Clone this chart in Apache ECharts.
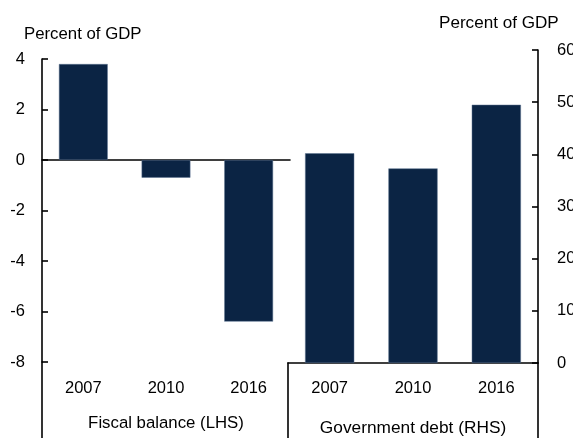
<!DOCTYPE html>
<html>
<head>
<meta charset="utf-8">
<script src="https://cdn.jsdelivr.net/npm/echarts@6/dist/echarts.min.js"></script>
<style>html,body{margin:0;padding:0;background:#fff}#c{width:573px;height:438px}</style>
</head>
<body>
<div id="c"></div>
<script>
const years = ['2007', '2010', '2016'];
const fiscalBalance = [3.8, -0.7, -6.4];
const govDebt = [40.2, 37.3, 49.5];
const leftTicks = { min: -8, max: 4, interval: 2 };
const rightTicks = { min: 0, max: 60, interval: 10 };
const leftUnit = 'Percent of GDP';
const rightUnit = 'Percent of GDP';
const leftName = 'Fiscal balance (LHS)';
const rightName = 'Government debt (RHS)';

const FONT = '"Liberation Sans", Arial, sans-serif';
const BAR = '#0b2444';
const LINE = { color: '#000', width: 1.6 };
const txt = { color: '#000', fontFamily: FONT, fontSize: 16.5 };

const chart = echarts.init(document.getElementById('c'), null, { renderer: 'canvas' });
chart.setOption({
  animation: false,
  backgroundColor: '#fff',
  title: [
    { text: leftUnit, left: 24, top: 26, padding: 0, textStyle: Object.assign({}, txt, { fontSize: 16.8, fontWeight: 'normal' }) },
    { text: rightUnit, left: 439, top: 15, padding: 0, textStyle: Object.assign({}, txt, { fontSize: 17.1, fontWeight: 'normal' }) }
  ],
  grid: [
    { left: 42, top: 59, width: 248, height: 303, outerBoundsMode: 'none', containLabel: false },
    { left: 42, top: 362, width: 248, height: 76, outerBoundsMode: 'none', containLabel: false },
    { left: 288, top: 50, width: 250, height: 313, outerBoundsMode: 'none', containLabel: false },
    { left: 288, top: 363, width: 250, height: 75, outerBoundsMode: 'none', containLabel: false }
  ],
  xAxis: [
    { gridIndex: 0, type: 'category', data: years, position: 'top',
      axisLine: { show: true, onZero: true, lineStyle: LINE }, axisTick: { show: false }, axisLabel: { show: false } },
    { gridIndex: 0, type: 'category', data: years, position: 'bottom',
      axisLine: { show: false, onZero: false }, axisTick: { show: false },
      axisLabel: Object.assign({ margin: 18 }, txt),
      name: leftName, nameLocation: 'middle', nameGap: 53,
      nameTextStyle: Object.assign({}, txt, { fontSize: 16.8 }) },
    { gridIndex: 1, type: 'category', data: years, show: false },
    { gridIndex: 2, type: 'category', data: years, position: 'bottom',
      axisLine: { show: true, onZero: false, lineStyle: LINE }, axisTick: { show: false },
      axisLabel: Object.assign({ margin: 17 }, txt),
      name: rightName, nameLocation: 'middle', nameGap: 57,
      nameTextStyle: Object.assign({}, txt, { fontSize: 17.3 }) },
    { gridIndex: 3, type: 'category', data: years, show: false }
  ],
  yAxis: [
    { gridIndex: 0, type: 'value', position: 'left', min: leftTicks.min, max: leftTicks.max, interval: leftTicks.interval,
      axisLine: { show: true, lineStyle: LINE }, axisTick: { show: true, inside: true, length: 6, lineStyle: LINE },
      axisLabel: Object.assign({ margin: 17 }, txt), splitLine: { show: false } },
    { gridIndex: 1, type: 'value', position: 'left', min: 0, max: 1,
      axisLine: { show: true, lineStyle: LINE }, axisTick: { show: false }, axisLabel: { show: false }, splitLine: { show: false } },
    { gridIndex: 2, type: 'value', position: 'right', min: rightTicks.min, max: rightTicks.max, interval: rightTicks.interval,
      axisLine: { show: true, lineStyle: LINE }, axisTick: { show: true, inside: true, length: 6, lineStyle: LINE },
      axisLabel: Object.assign({ margin: 19, align: 'left' }, txt), splitLine: { show: false } },
    { gridIndex: 3, type: 'value', position: 'left', min: 0, max: 1,
      axisLine: { show: true, lineStyle: LINE }, axisTick: { show: false }, axisLabel: { show: false }, splitLine: { show: false } },
    { gridIndex: 3, type: 'value', position: 'right', min: 0, max: 1,
      axisLine: { show: true, lineStyle: LINE }, axisTick: { show: false }, axisLabel: { show: false }, splitLine: { show: false } }
  ],
  series: [
    { type: 'bar', name: leftName, xAxisIndex: 0, yAxisIndex: 0, data: fiscalBalance, barWidth: '59%',
      itemStyle: { color: BAR, borderColor: '#5d7390', borderWidth: 0.5 } },
    { type: 'bar', name: rightName, xAxisIndex: 3, yAxisIndex: 2, data: govDebt, barWidth: '59%',
      itemStyle: { color: BAR, borderColor: '#5d7390', borderWidth: 0.5 } }
  ]
});
</script>
</body>
</html>
